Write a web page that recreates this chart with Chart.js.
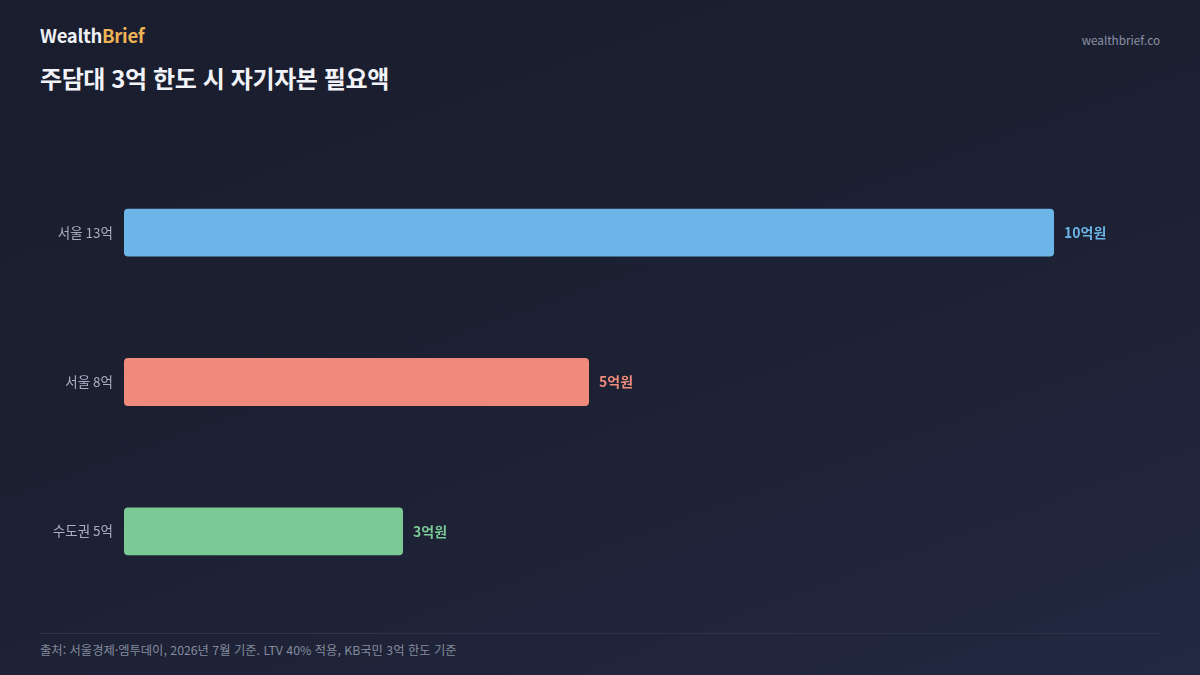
<!DOCTYPE html>
<html lang="ko">
<head>
<meta charset="utf-8">
<script src="https://cdn.jsdelivr.net/npm/chart.js@4"></script>
<style>
  html, body { margin: 0; padding: 0; }
  body {
    width: 1200px; height: 675px; overflow: hidden; position: relative;
    background: linear-gradient(160deg, #191d2d 0%, #1c2133 55%, #232843 100%);
    font-family: "Noto Sans CJK KR", "Noto Sans", sans-serif;
  }
  .brand { position: absolute; left: 40px; top: 22px; font-size: 18.5px; font-weight: 700; color: #eef0f6; letter-spacing: -0.3px; }
  .brand span { color: #efb456; }
  .site { position: absolute; right: 40px; top: 31px; font-size: 11.7px; color: #8d93a6; }
  .title { position: absolute; left: 40px; top: 60px; font-size: 24px; font-weight: 700; color: #f2f3f8; letter-spacing: -0.4px; }
  .chart-wrap { position: absolute; left: 0; top: 139px; width: 1200px; height: 486px; }
  .rule { position: absolute; left: 40px; right: 40px; top: 633px; height: 1px; background: #2d3346; }
  .source { position: absolute; left: 40px; top: 641px; font-size: 12.3px; color: #858b9d; }
</style>
</head>
<body>
<div class="brand">Wealth<span>Brief</span></div>
<div class="site">wealthbrief.co</div>
<div class="title">주담대 3억 한도 시 자기자본 필요액</div>
<div class="chart-wrap"><canvas id="chart"></canvas></div>
<div class="rule"></div>
<div class="source">출처: 서울경제·엠투데이, 2026년 7월 기준. LTV 40% 적용, KB국민 3억 한도 기준</div>

<script>
// chart data
const categories = ['서울 13억', '서울 8억', '수도권 5억'];
const equityValues = [10, 5, 3];          // 억원
const valueLabels = ['10억원', '5억원', '3억원'];
const barColors = ['#6cb5e8', '#f08b7b', '#7bc995'];

// value labels drawn at the end of each bar
const endLabels = {
  id: 'endLabels',
  afterDatasetsDraw(chart) {
    const ctx = chart.ctx;
    const meta = chart.getDatasetMeta(0);
    ctx.save();
    ctx.font = 'bold 14px "Noto Sans CJK KR", sans-serif';
    ctx.textBaseline = 'middle';
    ctx.textAlign = 'left';
    meta.data.forEach((bar, i) => {
      ctx.fillStyle = barColors[i];
      ctx.fillText(valueLabels[i], bar.x + 10, bar.y);
    });
    ctx.restore();
  }
};

const ctx = document.getElementById('chart').getContext('2d');
new Chart(ctx, {
  type: 'bar',
  data: {
    labels: categories,
    datasets: [{
      data: equityValues,
      backgroundColor: barColors,
      borderRadius: 4,
      borderSkipped: false,
      barPercentage: 0.32,
      categoryPercentage: 1
    }]
  },
  options: {
    indexAxis: 'y',
    responsive: true,
    maintainAspectRatio: false,
    animation: false,
    layout: { padding: { left: 0, right: 146, top: 0, bottom: 0 } },
    plugins: { legend: { display: false }, tooltip: { enabled: false } },
    scales: {
      x: { display: false, min: 0, max: 10 },
      y: {
        grid: { display: false, drawTicks: false },
        border: { display: false },
        ticks: {
          color: '#a9afc0',
          padding: 11,
          font: { family: '"Noto Sans CJK KR", sans-serif', size: 13.5 }
        },
        afterFit(scale) { scale.width = 124; }
      }
    }
  },
  plugins: [endLabels]
});
</script>
</body>
</html>
